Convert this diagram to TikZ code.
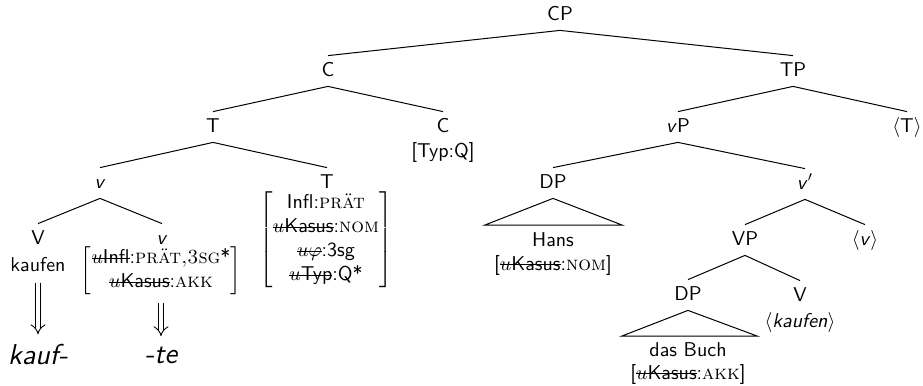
\documentclass[tikz,border=0pt]{standalone}
\usepackage{fontspec}
\usetikzlibrary{arrows.meta}
% feature values in roman small caps, struck-out uninterpretable features
\newsavebox\strikebox
\newcommand\strikeout[1]{\sbox\strikebox{#1}\rlap{\rule[0.52ex]{\wd\strikebox}{0.45pt}}\usebox\strikebox}
\newcommand\featval[1]{\textrm{\textsc{#1}}}
\newcommand\ufeat[1]{\strikeout{$u$#1}}
\begin{document}
\begin{tikzpicture}[x=0.5pt,y=-0.5pt,font=\sffamily,
  cat/.style={inner sep=3pt,text height=7pt,text depth=2pt},
  txt/.style={inner sep=0pt},
  branch/.style={line width=0.5pt},
  spellout/.style={double,double distance=2.2pt,line width=0.45pt,-{Implies[length=4pt,width=7pt]}},
  morph/.style={inner sep=0pt,font=\Large\sffamily\itshape}]
\useasboundingbox (0,0) rectangle (923,386);

% ---- upper spine
\node[cat] (cp)  at (560,15)  {CP};
\node[cat] (c1)  at (328,71)  {C};
\node[cat] (tp)  at (793,71)  {TP};
\node[cat] (t1)  at (213,127) {T};
\node[cat] (c2)  at (443,127) {C};
\node[txt] (typ) at (443,152) {[Typ:Q]};

% ---- complex head T
\node[cat] (vh)  at (100,183) {\textit{v}};
\node[cat] (t2)  at (327,183) {T};
\node[txt] (tavm) at (326,240) {$\left[\begin{tabular}{@{}c@{}}Infl:\featval{prät}\\ \ufeat{Kasus}:\featval{nom}\\ \strikeout{$u\varphi$}:3sg\\ \ufeat{Typ}:Q*\end{tabular}\right]$};
\node[cat] (vv)  at (38,239)  {V};
\node[txt] (kaufen) at (38,265) {kaufen};
\node[cat] (vl)  at (162,239) {\textit{v}};
\node[txt] (vavm) at (161,271) {$\left[\begin{tabular}{@{}c@{}}\ufeat{Infl}:\featval{prät,3sg}*\\ \ufeat{Kasus}:\featval{akk}\end{tabular}\right]$};
\node[morph] (kauf) at (38,355) {kauf-};
\node[morph] (te)   at (161,355) {-te};

% ---- TP side
\node[cat] (vp)  at (678,127) {\textit{v}P};
\node[cat] (tt)  at (907,127) {$\langle$T$\rangle$};
\node[cat] (dp1) at (553,183) {DP};
\node[cat] (vbar) at (805,184) {\textit{v}$'$};
\node[txt] (hans) at (553,240) {Hans};
\node[txt] (nom)  at (553,265) {[\ufeat{Kasus}:\featval{nom}]};
\node[cat] (vp2) at (745,240) {VP};
\node[cat] (vtr) at (865,240) {$\langle$\textit{v}$\rangle$};
\node[cat] (dp2) at (688,295) {DP};
\node[cat] (vv2) at (800,296) {V};
\node[txt] (kauftr) at (800,322) {$\langle$\textit{kaufen}$\rangle$};
\node[txt] (buch) at (688,350) {das Buch};
\node[txt] (akk)  at (688,374) {[\ufeat{Kasus}:\featval{akk}]};

% triangle corners
\coordinate (dp1l) at (485,225);
\coordinate (dp1r) at (622,225);
\coordinate (dp2l) at (622,336);
\coordinate (dp2r) at (757,336);

% ---- branches
\draw[branch] (cp.south) -- (c1.north);
\draw[branch] (cp.south) -- (tp.north);
\draw[branch] (c1.south) -- (t1.north);
\draw[branch] (c1.south) -- (c2.north);
\draw[branch] (t1.south) -- (vh.north);
\draw[branch] (t1.south) -- (t2.north);
\draw[branch] (vh.south) -- (vv.north);
\draw[branch] (vh.south) -- (vl.north);
\draw[branch] (tp.south) -- (vp.north);
\draw[branch] (tp.south) -- (tt.north);
\draw[branch] (vp.south) -- (dp1.north);
\draw[branch] (vp.south) -- (vbar.north);
\draw[branch] (vbar.south) -- (vp2.north);
\draw[branch] (vbar.south) -- (vtr.north);
\draw[branch] (vp2.south) -- (dp2.north);
\draw[branch] (vp2.south) -- (vv2.north);
\draw[branch] (dp1.south) -- (dp1l) -- (dp1r) -- cycle;
\draw[branch] (dp2.south) -- (dp2l) -- (dp2r) -- cycle;

% ---- spell-out arrows
\draw[spellout,shorten <=5pt,shorten >=5pt] (kaufen) -- (kauf);
\draw[spellout,shorten <=4pt,shorten >=5pt] (vavm) -- (te);
\end{tikzpicture}
\end{document}
